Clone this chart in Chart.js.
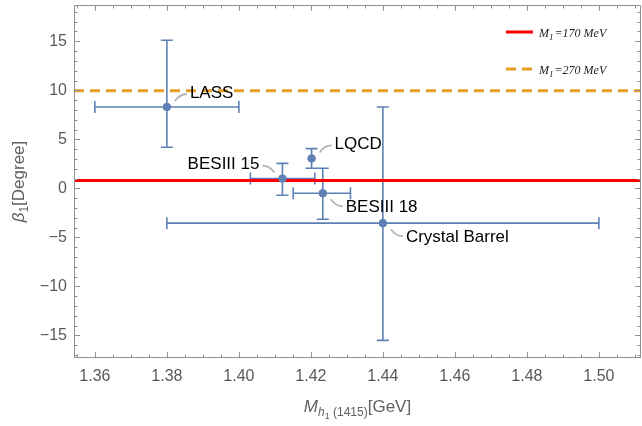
<!DOCTYPE html>
<html>
<head>
<meta charset="utf-8">
<script src="https://cdn.jsdelivr.net/npm/chart.js@4.4.1/dist/chart.umd.min.js"></script>
<style>
  html, body { margin: 0; padding: 0; background: #fff; }
</style>
</head>
<body>
<canvas id="chart" width="642" height="426"></canvas>
<script>
// measurements
const names = ["LASS", "BESIII 15", "LQCD", "BESIII 18", "Crystal Barrel"];
const massX = [1.38, 1.4121, 1.4202, 1.4233, 1.44];
const massLo = [1.36, 1.4032, 1.4202, 1.4151, 1.38];
const massHi = [1.40, 1.4211, 1.4202, 1.4310, 1.50];
const beta = [8.3, 1.0, 3.05, -0.5, -3.55];
const betaLo = [4.2, -0.7, 2.05, -3.15, -15.5];
const betaHi = [15.1, 2.55, 4.05, 2.05, 8.3];

// model curves (constant in mass)
const lineLabels = ["=170 MeV", "=270 MeV"];
const lineBeta = [0.8, 9.95];

const xTicks = [1.36, 1.38, 1.40, 1.42, 1.44, 1.46, 1.48, 1.50];
const yTicks = [-15, -10, -5, 0, 5, 10, 15];
const xRange = [1.3542, 1.5117];
const yRange = [-17.3, 18.7];

const BLUE = "#5e81b5";
const lineColors = ["#ff0000", "#e69f22"];
const lineDash = [[], [10, 6]];
// callout direction for each label: [sx, sy]
const calloutDir = [[1, -1], [-1, -1], [1, -1], [1, 1], [1, 1]];

const SANS = "'Liberation Sans', Arial, sans-serif";
const SERIF = "'Liberation Serif', 'Times New Roman', serif";

function drawRuns(ctx, runs, cx, cy) {
  let total = 0;
  runs.forEach(r => { ctx.font = r.font; r.w = ctx.measureText(r.text).width; total += r.w; });
  let x = cx - total / 2;
  ctx.textBaseline = "alphabetic";
  ctx.textAlign = "left";
  runs.forEach(r => {
    ctx.font = r.font;
    ctx.fillText(r.text, x, cy + (r.dy || 0));
    x += r.w;
  });
}

const errorBars = {
  id: "errorBars",
  beforeDatasetsDraw(chart) {
    const { ctx, scales: { x, y } } = chart;
    ctx.save();
    ctx.strokeStyle = BLUE;
    ctx.lineWidth = 1.6;
    const cap = 6;
    massX.forEach((m, i) => {
      const px = x.getPixelForValue(m), py = y.getPixelForValue(beta[i]);
      const y1 = y.getPixelForValue(betaLo[i]), y2 = y.getPixelForValue(betaHi[i]);
      ctx.beginPath();
      ctx.moveTo(px, y1); ctx.lineTo(px, y2);
      ctx.moveTo(px - cap, y1); ctx.lineTo(px + cap, y1);
      ctx.moveTo(px - cap, y2); ctx.lineTo(px + cap, y2);
      if (massHi[i] > massLo[i]) {
        const x1 = x.getPixelForValue(massLo[i]), x2 = x.getPixelForValue(massHi[i]);
        ctx.moveTo(x1, py); ctx.lineTo(x2, py);
        ctx.moveTo(x1, py - cap); ctx.lineTo(x1, py + cap);
        ctx.moveTo(x2, py - cap); ctx.lineTo(x2, py + cap);
      }
      ctx.stroke();
    });
    ctx.restore();
  }
};

const decorations = {
  id: "decorations",
  afterDraw(chart) {
    const { ctx, chartArea: a, scales: { x, y } } = chart;
    ctx.save();

    // frame with inward ticks
    ctx.strokeStyle = "#909090";
    ctx.lineWidth = 1;
    ctx.strokeRect(a.left + 0.5, a.top + 0.5, a.right - a.left - 1, a.bottom - a.top - 1);
    ctx.beginPath();
    for (let k = 0; k <= 40; k++) {
      const v = 1.355 + k * 0.005;
      if (v > xRange[1]) break;
      const major = xTicks.some(t => Math.abs(t - v) < 1e-6);
      const len = major ? 6 : 3.5;
      const px = Math.round(x.getPixelForValue(v)) + 0.5;
      ctx.moveTo(px, a.bottom); ctx.lineTo(px, a.bottom - len);
      ctx.moveTo(px, a.top); ctx.lineTo(px, a.top + len);
    }
    for (let v = -17; v <= 18; v++) {
      const major = v % 5 === 0;
      const len = major ? 6 : 3.5;
      const py = Math.round(y.getPixelForValue(v)) + 0.5;
      ctx.moveTo(a.left, py); ctx.lineTo(a.left + len, py);
      ctx.moveTo(a.right, py); ctx.lineTo(a.right - len, py);
    }
    ctx.stroke();

    // callouts
    names.forEach((name, i) => {
      const [sx, sy] = calloutDir[i];
      const px = x.getPixelForValue(massX[i]), py = y.getPixelForValue(beta[i]);
      ctx.strokeStyle = "#b4b4b4";
      ctx.lineWidth = 1.8;
      ctx.beginPath();
      ctx.moveTo(px + sx * 8, py + sy * 6);
      ctx.quadraticCurveTo(px + sx * 13, py + sy * 13, px + sx * 20, py + sy * 13);
      ctx.stroke();
      ctx.fillStyle = "#000";
      ctx.font = "17px " + SANS;
      ctx.textBaseline = "middle";
      ctx.textAlign = sx > 0 ? "left" : "right";
      ctx.fillText(name, px + sx * 23, py + sy * 14);
    });

    // legend
    lineLabels.forEach((lab, i) => {
      const ly = 32 + i * 37;
      ctx.strokeStyle = lineColors[i];
      ctx.lineWidth = 3;
      ctx.setLineDash(lineDash[i]);
      ctx.beginPath();
      ctx.moveTo(506, ly); ctx.lineTo(533, ly);
      ctx.stroke();
      ctx.setLineDash([]);
      ctx.fillStyle = "#222";
      ctx.textBaseline = "alphabetic";
      ctx.textAlign = "left";
      let tx = 539;
      ctx.font = "italic 12px " + SERIF;
      ctx.fillText("M", tx, ly + 5); tx += ctx.measureText("M").width;
      ctx.font = "italic 9px " + SERIF;
      ctx.fillText("1", tx, ly + 8); tx += ctx.measureText("1").width + 1;
      ctx.font = "italic 12px " + SERIF;
      ctx.fillText(lab, tx, ly + 5);
    });

    // axis titles
    ctx.fillStyle = "#606060";
    const cx = (a.left + a.right) / 2;
    drawRuns(ctx, [
      { text: "M", font: "italic 17px " + SANS },
      { text: "h", font: "italic 12px " + SANS, dy: 4 },
      { text: "1", font: "9px " + SANS, dy: 7 },
      { text: " (1415)", font: "12px " + SANS, dy: 4 },
      { text: "[GeV]", font: "17px " + SANS }
    ], cx, 412);
    ctx.save();
    ctx.translate(24, (a.top + a.bottom) / 2);
    ctx.rotate(-Math.PI / 2);
    drawRuns(ctx, [
      { text: "β", font: "italic 17px " + SANS },
      { text: "1", font: "12px " + SANS, dy: 4 },
      { text: "[Degree]", font: "17px " + SANS }
    ], 0, 0);
    ctx.restore();

    ctx.restore();
  }
};

const datasets = lineBeta.map((b, i) => ({
  type: "line",
  data: [{ x: xRange[0], y: b }, { x: xRange[1], y: b }],
  borderColor: lineColors[i],
  borderWidth: 3,
  borderDash: lineDash[i],
  pointRadius: 0,
  order: 2
}));
datasets.push({
  type: "scatter",
  data: massX.map((m, i) => ({ x: m, y: beta[i] })),
  backgroundColor: BLUE,
  borderColor: BLUE,
  pointRadius: 3.8,
  order: 1
});

new Chart(document.getElementById("chart"), {
  data: { datasets },
  options: {
    responsive: false,
    animation: false,
    layout: { autoPadding: false, padding: { top: 5, right: 1, left: 0, bottom: 0 } },
    plugins: { legend: { display: false }, tooltip: { enabled: false } },
    scales: {
      x: {
        type: "linear",
        min: xRange[0], max: xRange[1],
        grid: { display: false, drawTicks: false },
        border: { display: false },
        afterBuildTicks: s => { s.ticks = xTicks.map(v => ({ value: v })); },
        afterFit: s => { s.height = 68; s.paddingLeft = 0; s.paddingRight = 0; },
        ticks: {
          autoSkip: false, maxRotation: 0, padding: 9,
          color: "#5a5a5a", font: { family: SANS, size: 16 },
          callback: v => v.toFixed(2)
        }
      },
      y: {
        type: "linear",
        min: yRange[0], max: yRange[1],
        grid: { display: false, drawTicks: false },
        border: { display: false },
        afterBuildTicks: s => { s.ticks = yTicks.map(v => ({ value: v })); },
        afterFit: s => { s.width = 74; s.paddingTop = 0; s.paddingBottom = 0; },
        ticks: {
          autoSkip: false, padding: 7,
          color: "#5a5a5a", font: { family: SANS, size: 16 },
          callback: v => (v < 0 ? "\u2212" + Math.abs(v) : String(v))
        }
      }
    }
  },
  plugins: [errorBars, decorations]
});
</script>
</body>
</html>
